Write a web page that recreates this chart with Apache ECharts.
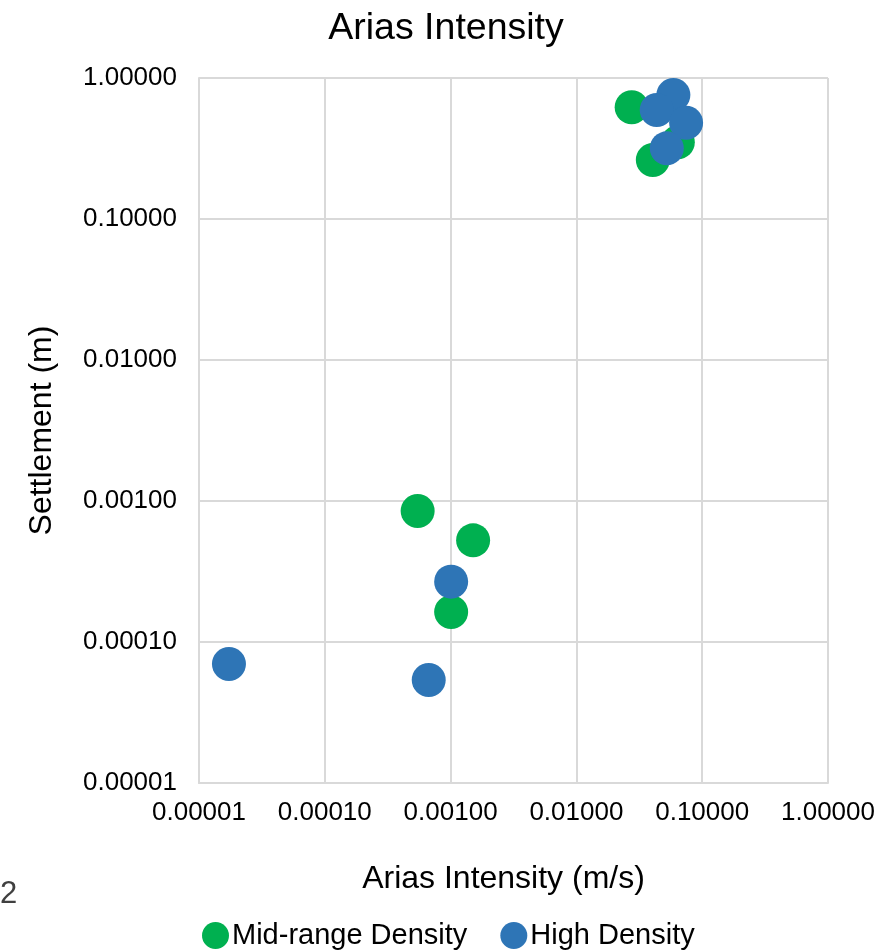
<!DOCTYPE html>
<html>
<head>
<meta charset="utf-8">
<script src="https://cdn.jsdelivr.net/npm/echarts@6/dist/echarts.min.js"></script>
<style>
html,body{margin:0;padding:0;background:#fff;}
#chart{width:891px;height:950px;}
</style>
</head>
<body>
<div id="chart"></div>
<script>
// Data: [Arias Intensity (m/s), Settlement (m)]
const midRangeDensity = [
  [0.0275, 0.62],
  [0.0405, 0.262],
  [0.064, 0.35],
  [0.000547, 0.000849],
  [0.00151, 0.000526],
  [0.00101, 0.000163]
];
const highDensity = [
  [0.059, 0.758],
  [0.0435, 0.593],
  [0.0745, 0.482],
  [0.0523, 0.317],
  [0.00101, 0.000268],
  [0.00067, 0.0000537],
  [0.0000173, 0.0000698]
];
const seriesNames = ['Mid-range Density', 'High Density'];
const axisMin = 0.00001;
const axisMax = 1;

const font = 'Liberation Sans, Arial, sans-serif';
const chart = echarts.init(document.getElementById('chart'), null, {renderer: 'canvas'});
chart.setOption({
  animation: false,
  backgroundColor: '#ffffff',
  title: {
    text: 'Arias Intensity',
    left: 441,
    textAlign: 'center',
    top: 5,
    textStyle: {fontFamily: font, fontSize: 37.5, fontWeight: 'normal', color: '#000'}
  },
  legend: {
    data: seriesNames,
    left: 197,
    top: 916,
    itemWidth: 27,
    itemHeight: 27,
    itemGap: 33,
    icon: 'circle',
    textStyle: {fontFamily: font, fontSize: 29, color: '#000', padding: [0, 0, 0, -2]}
  },
  grid: {left: 199, top: 78, width: 629, height: 705, containLabel: false},
  xAxis: {
    type: 'log',
    logBase: 10,
    min: axisMin,
    max: axisMax,
    name: 'Arias Intensity (m/s)',
    nameLocation: 'middle',
    nameGap: 80,
    nameTextStyle: {fontFamily: font, fontSize: 32, color: '#000', verticalAlign: 'top', padding: [0, 20, 0, 0]},
    axisLine: {show: true, lineStyle: {color: '#d9d9d9', width: 2}},
    axisTick: {show: false},
    splitLine: {show: true, lineStyle: {color: '#d9d9d9', width: 2}},
    axisLabel: {
      fontFamily: font, fontSize: 26, color: '#000', margin: 17,
      formatter: v => Number(v).toFixed(5)
    }
  },
  yAxis: {
    type: 'log',
    logBase: 10,
    min: axisMin,
    max: axisMax,
    name: 'Settlement (m)',
    nameLocation: 'middle',
    nameGap: 141,
    nameRotate: 90,
    nameTextStyle: {fontFamily: font, fontSize: 32, color: '#000'},
    axisLine: {show: true, lineStyle: {color: '#d9d9d9', width: 2}},
    axisTick: {show: false},
    splitLine: {show: true, lineStyle: {color: '#d9d9d9', width: 2}},
    axisLabel: {
      fontFamily: font, fontSize: 26, color: '#000', margin: 22,
      formatter: v => Number(v).toFixed(5)
    }
  },
  graphic: [{
    type: 'text',
    left: 0,
    top: 879,
    style: {text: '2', fontFamily: font, fontSize: 31, fill: '#404040'}
  }],
  series: [
    {
      name: seriesNames[0],
      type: 'scatter',
      data: midRangeDensity,
      symbol: 'circle',
      symbolSize: 34,
      itemStyle: {color: '#00b050', opacity: 1}
    },
    {
      name: seriesNames[1],
      type: 'scatter',
      data: highDensity,
      symbol: 'circle',
      symbolSize: 34,
      itemStyle: {color: '#2e75b6', opacity: 1}
    }
  ]
});
</script>
</body>
</html>
